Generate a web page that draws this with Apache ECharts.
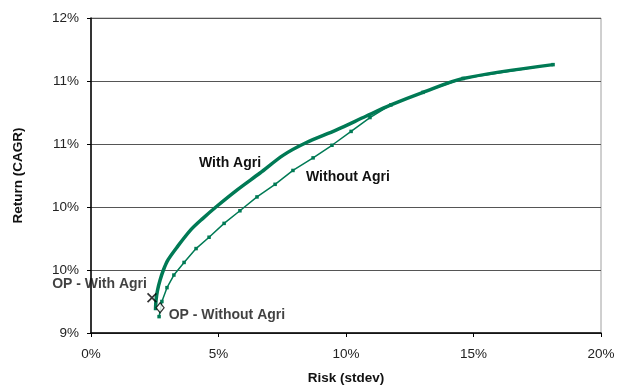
<!DOCTYPE html>
<html>
<head>
<meta charset="utf-8">
<script src="https://cdn.jsdelivr.net/npm/echarts@6/dist/echarts.min.js"></script>
<style>
  html, body { margin: 0; padding: 0; background: #fff; }
  #chart { width: 629px; height: 385px; }
</style>
</head>
<body>
<div id="chart"></div>
<script>
// Efficient frontier: risk (stdev, %) vs return (CAGR, %)
const withAgriRisk    = [2.53, 2.55, 2.61, 2.71, 2.84, 3.02, 3.37, 3.92, 4.39, 4.90, 5.76, 6.63, 7.53, 8.43, 9.61, 10.78, 11.76, 13.02, 14.59, 18.12];
const withAgriReturn  = [9.18, 9.26, 9.34, 9.42, 9.50, 9.58, 9.68, 9.82, 9.91, 10.00, 10.14, 10.27, 10.41, 10.51, 10.61, 10.72, 10.81, 10.91, 11.02, 11.13];

const withoutAgriRisk   = [2.67, 2.78, 2.98, 3.25, 3.65, 4.12, 4.63, 5.22, 5.84, 6.51, 7.22, 7.92, 8.71, 9.45, 10.20, 10.94, 11.76, 13.02, 14.59, 18.12];
const withoutAgriReturn = [9.13, 9.25, 9.36, 9.46, 9.56, 9.67, 9.76, 9.87, 9.97, 10.08, 10.18, 10.29, 10.39, 10.49, 10.60, 10.71, 10.81, 10.91, 11.02, 11.13];

// Optimal portfolios
const opWithAgri    = [2.39, 9.28];
const opWithoutAgri = [2.71, 9.20];

// Axis ticks
const yTickValues = [9.0, 9.5, 10.0, 10.5, 11.0, 11.5];
const yTickLabels = ['9%', '10%', '10%', '11%', '11%', '12%'];
const xTickLabels = ['0%', '5%', '10%', '15%', '20%'];

const GREEN = '#007A55';
const FONT = 'Liberation Sans, Arial, sans-serif';

const zip = (a, b) => a.map((v, i) => [v, b[i]]);

const crossPath = 'path://M0,1.2 L1.2,0 L5,3.8 L8.8,0 L10,1.2 L6.2,5 L10,8.8 L8.8,10 L5,6.2 L1.2,10 L0,8.8 L3.8,5 Z';

const chart = echarts.init(document.getElementById('chart'));
chart.setOption({
  animation: false,
  backgroundColor: '#fff',
  grid: {
    left: 91, right: 28, top: 18, bottom: 52,
    outerBoundsMode: 'none', containLabel: false,
    show: true, borderColor: '#a0a0a0', borderWidth: 1, backgroundColor: 'transparent'
  },
  xAxis: {
    type: 'value', min: 0, max: 20, interval: 5,
    name: 'Risk (stdev)', nameLocation: 'middle', nameGap: 38,
    nameTextStyle: { fontFamily: FONT, fontWeight: 'bold', fontSize: 13.5, color: '#111' },
    axisLine: { show: true, onZero: false, lineStyle: { color: '#000', width: 1.5 } },
    axisTick: { show: true, length: 4, lineStyle: { color: '#000' } },
    axisLabel: { fontFamily: FONT, fontSize: 13.5, color: '#222', margin: 14,
      formatter: v => xTickLabels[Math.round(v / 5)] },
    splitLine: { show: false }
  },
  yAxis: {
    type: 'value', min: 9, max: 11.5, interval: 0.5,
    name: 'Return (CAGR)', nameLocation: 'middle', nameGap: 66, nameRotate: 90,
    nameTextStyle: { fontFamily: FONT, fontWeight: 'bold', fontSize: 13.5, color: '#111' },
    axisLine: { show: true, onZero: false, lineStyle: { color: '#000', width: 1.5 } },
    axisTick: { show: true, length: 4, lineStyle: { color: '#000' } },
    axisLabel: { fontFamily: FONT, fontSize: 13.5, color: '#222', margin: 12,
      formatter: v => yTickLabels[yTickValues.indexOf(Math.round(v * 2) / 2)] },
    splitLine: { show: true, lineStyle: { color: '#555', width: 1 } }
  },
  series: [
    {
      name: 'With Agri', type: 'line',
      data: zip(withAgriRisk, withAgriReturn),
      symbol: 'none', smooth: 0.3,
      lineStyle: { color: GREEN, width: 3.5 },
      z: 2
    },
    {
      name: 'Without Agri', type: 'line',
      data: zip(withoutAgriRisk, withoutAgriReturn),
      symbol: 'rect', symbolSize: 3.5, showSymbol: true,
      itemStyle: { color: GREEN },
      lineStyle: { color: GREEN, width: 1.5 },
      z: 3
    },
    {
      name: 'OP - With Agri', type: 'scatter',
      data: [opWithAgri],
      symbol: crossPath, symbolSize: 10,
      itemStyle: { color: '#000' },
      label: { show: true, position: 'left', offset: [0, -14], formatter: 'OP - With Agri',
        fontFamily: FONT, fontWeight: 'bold', fontSize: 14, color: '#111', distance: 0 },
      z: 5
    },
    {
      name: 'OP - Without Agri', type: 'scatter',
      data: [opWithoutAgri],
      symbol: 'diamond', symbolSize: [8, 10],
      itemStyle: { color: '#fff', borderColor: '#000', borderWidth: 1.2 },
      label: { show: true, position: 'right', offset: [-1, 7], formatter: 'OP - Without Agri',
        fontFamily: FONT, fontWeight: 'bold', fontSize: 14, color: '#111' },
      z: 5
    }
  ],
  graphic: [
    { type: 'text', left: 199, top: 156, style: { text: 'With Agri', font: 'bold 14px ' + FONT, fill: '#111' } },
    { type: 'text', left: 306, top: 170, style: { text: 'Without Agri', font: 'bold 14px ' + FONT, fill: '#111' } }
  ]
});
</script>
</body>
</html>
